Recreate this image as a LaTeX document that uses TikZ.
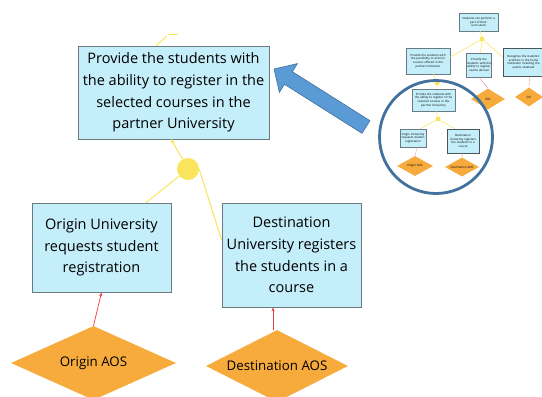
\documentclass[tikz,border=0pt]{standalone}
\usepackage{fontspec}
\setmainfont{Open Sans}
\usetikzlibrary{shapes.geometric,arrows.meta}
\definecolor{boxfill}{HTML}{C5EEFB}
\definecolor{boxline}{HTML}{6B7B82}
\definecolor{goal}{HTML}{F9E45B}
\definecolor{actor}{HTML}{F7AB3D}
\definecolor{dep}{HTML}{EE3B3B}
\definecolor{ring}{HTML}{41719C}
\definecolor{bigarrow}{HTML}{5B9BD5}
\tikzset{
  goalbox/.style={draw=boxline, fill=boxfill, line width=0.8pt, align=center, inner sep=0pt,
    font=\fontsize{14.5}{21.7}\selectfont},
  actorbox/.style={diamond, fill=actor, inner sep=0pt, aspect=2.2,
    font=\fontsize{13.3}{16}\selectfont},
  anddot/.style={circle, fill=goal, inner sep=0pt},
  goalline/.style={draw=goal, line width=1pt},
  depline/.style={draw=dep, line width=0.7pt, -{Stealth[length=4pt,width=3pt]}},
  tbox/.style={draw=boxline, fill=boxfill, line width=0.5pt, align=center, inner sep=0.5pt,
    font=\fontsize{2.9}{3.7}\selectfont},
  tactor/.style={diamond, fill=actor, inner sep=0pt, aspect=2,
    font=\fontsize{3}{3.6}\selectfont},
  tgoalline/.style={draw=goal, line width=0.5pt},
  tdepline/.style={draw=dep!70, line width=0.4pt, dashed, dash pattern=on 1pt off 0.6pt},
}
\begin{document}
\begin{tikzpicture}[x=1pt,y=-1pt]
\useasboundingbox (0,0) rectangle (542,397);
\clip (0,0) rectangle (542,397);

% main refinement
\node[goalbox, minimum width=191pt, minimum height=93pt] (main) at (173.5,92.5)
  {Provide the students with\\the ability to register in the\\selected courses in the\\partner University};
\node[goalbox, minimum width=139pt, minimum height=89pt] (orig) at (101.5,247.5)
  {Origin University\\requests student\\registration};
\node[goalbox, minimum width=139pt, minimum height=104pt] (dest) at (291.5,255)
  {Destination\\University registers\\the students in a\\course};
\node[anddot, minimum size=22pt] (and) at (188,169) {};

\node[actorbox, minimum width=165pt, minimum height=74pt] (oaos) at (93.5,363) {Origin AOS};
\node[actorbox, minimum width=142pt, minimum height=72pt] (daos) at (277,366) {Destination AOS};

% AND-decomposition links
\coordinate (mtip) at (171,139);
\draw[goalline, -{Stealth[length=5pt,width=4pt]}] (and) -- (mtip);
\draw[goalline] (and) -- ([xshift=44.5pt]orig.north);
\draw[goalline] (and.east) -- ([yshift=15pt]dest.west);

% link to the parent goal above
\coordinate (up) at (167,36);
\coordinate (upa) at (168,34);
\coordinate (upb) at (178,34);
\draw[goalline] ([xshift=-17.5pt]main.north) -- (up);
\draw[goalline] (upa) -- (upb);

% dependencies
\draw[depline] (oaos.north) -- (orig.south);
\draw[depline] ([xshift=-4pt]daos.north) -- ([xshift=-4pt]daos.north |- dest.south);

% block arrow pointing from the overview to the detail
\filldraw[fill=bigarrow, draw=ring, line width=0.6pt]
  (370,120.7) -- (292.4,71.7) -- (297.4,63.6) -- (274,69) -- (279.4,92.4)
  -- (284.4,84.3) -- (362,133.3) -- cycle;

% overview of the whole goal model
\node[tbox, minimum width=39pt, minimum height=18pt, text width=37pt] (ttop) at (478.5,22)
  {Students can perform a\\part of their\\curriculum};
\node[anddot, minimum size=5pt] (tand1) at (482,39) {};
\node[tbox, minimum width=44pt, minimum height=26pt, text width=43pt] (tleft) at (428,61)
  {Provide the students with\\the possibility to enrol in\\courses offered in the\\partner institution};
\node[tbox, minimum width=25pt, minimum height=24pt, text width=24pt] (tmid) at (479,65)
  {Provide the\\students with the\\ability to register\\exams abroad};
\node[tbox, minimum width=41pt, minimum height=28pt, text width=40pt, draw=boxline!70!black] (tright) at (523.5,62)
  {Recognize the students'\\activities in the home\\institution including the\\exams obtained};
\node[tactor, minimum width=34pt, minimum height=21pt] (tiro) at (488,99) {IRO};
\node[tactor, minimum width=28pt, minimum height=19pt] (tou) at (529,97) {OU};

\node[anddot, minimum size=5pt] (tand2) at (437,83) {};
\node[tbox, minimum width=43pt, minimum height=22pt, text width=42pt] (tinner) at (433.5,100)
  {Provide the students with\\the ability to register in the\\selected courses in the\\partner University};
\node[anddot, minimum size=5pt] (tand3) at (438,119) {};
\node[tbox, minimum width=26pt, minimum height=18pt, text width=25pt] (til) at (413,138)
  {Origin University\\requests student\\registration};
\node[tbox, minimum width=32pt, minimum height=24pt, text width=31pt, draw=boxline!70!black] (tir) at (463,141)
  {Destination\\University registers\\the students in a\\course};
\node[tactor, minimum width=36pt, minimum height=20pt] (tdl) at (415,166) {Origin AOS};
\node[tactor, minimum width=34pt, minimum height=19pt] (tdr) at (462,167) {Destination AOS};

\draw[tgoalline] (tand1) -- (ttop);
\draw[tgoalline] (tand1) -- ([yshift=4pt]tleft.east);
\draw[tgoalline] (tand1) -- (tmid);
\draw[tgoalline] (tand1) -- ([yshift=5pt]tright.west);
\draw[tgoalline] (tand2) -- (tleft);
\draw[tgoalline] (tand2) -- (tinner);
\draw[tgoalline] (tand3) -- (tinner);
\draw[tgoalline] (tand3) -- ([xshift=7pt]til.north);
\draw[tgoalline] (tand3) -- ([xshift=-8pt]tir.north);
\draw[tdepline] (tiro.north) -- (tmid.south);
\draw[tdepline] (tou.north) -- ([xshift=6pt]tright.south);
\draw[tdepline] (tdl.north) -- ([xshift=4pt]til.south);
\draw[tdepline] (tdr.north) -- (tir.south);

\node[circle, draw=ring, line width=2.8pt, minimum size=113pt, inner sep=0pt] (ring) at (436,137) {};
\end{tikzpicture}
\end{document}
